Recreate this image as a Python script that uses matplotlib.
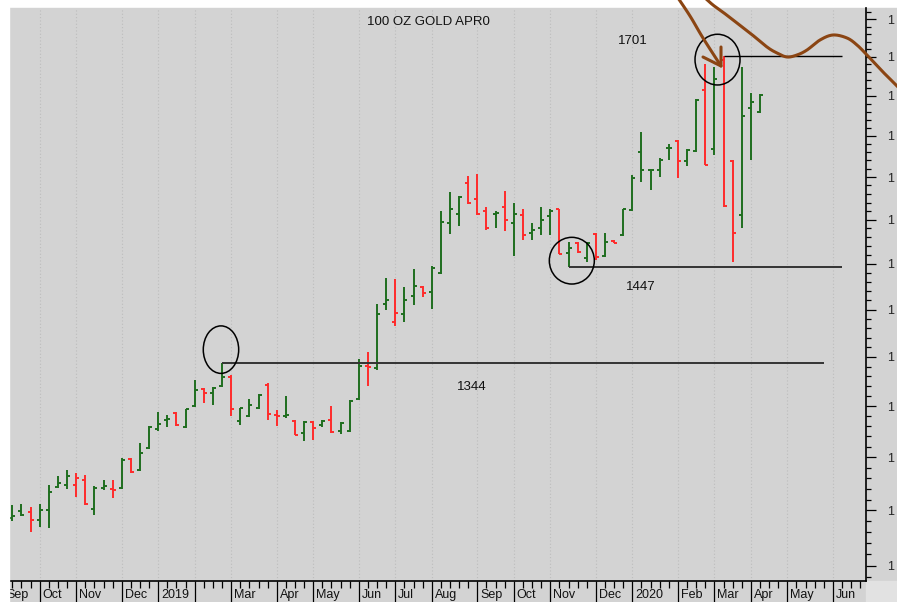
import numpy as np
import pandas as pd
import matplotlib
matplotlib.use("Agg")
import matplotlib.pyplot as plt
import matplotlib.transforms as mtransforms
from matplotlib.patches import Ellipse, Rectangle
from matplotlib.lines import Line2D
from matplotlib.ticker import FixedLocator, NullFormatter

plt.rcParams['font.family'] = ['Liberation Sans', 'DejaVu Sans']

# ---------------- data ----------------
TITLE = "100 OZ GOLD APR0"
FIRST_BAR = "2018-09-14"       # first weekly bar (Friday)
CAL_START = "2018-09-07"       # calendar of the time axis
CAL_END = "2020-06-26"

opens = [1193, 1199, 1198, 1191, 1200, 1222, 1224, 1224, 1228, 1201,
         1221, 1220, 1221, 1248, 1238, 1259, 1277, 1286, 1293, 1279,
         1300, 1317, 1313, 1320, 1329, 1285, 1290, 1298, 1321, 1291,
         1290, 1285, 1273, 1284, 1281, 1286, 1275, 1275, 1307, 1341,
         1339, 1406, 1387, 1395, 1415, 1425, 1419, 1440, 1496, 1507,
         1543, 1524, 1510, 1507, 1515, 1496, 1506, 1485, 1490, 1504,
         1512, 1462, 1474, 1457, 1484, 1459, 1476, 1482, 1511, 1580,
         1558, 1559, 1585, 1594, 1569, 1581, 1657, 1584, 1696, 1569,
         1506, 1634, 1629]
highs = [1205, 1206, 1203, 1206, 1224, 1232, 1238, 1235, 1233, 1223,
         1228, 1228, 1249, 1249, 1264, 1280, 1294, 1291, 1294, 1297,
         1326, 1318, 1319, 1344, 1331, 1298, 1307, 1312, 1323, 1296,
         1310, 1286, 1285, 1285, 1286, 1300, 1284, 1306, 1348, 1355,
         1406, 1434, 1433, 1425, 1444, 1426, 1448, 1510, 1532, 1528,
         1551, 1554, 1515, 1510, 1534, 1519, 1512, 1496, 1515, 1513,
         1513, 1475, 1475, 1475, 1485, 1485, 1477, 1513, 1553, 1605,
         1559, 1573, 1590, 1595, 1584, 1646, 1690, 1687, 1701, 1570,
         1687, 1654, 1652]
lows = [1190, 1195, 1180, 1185, 1184, 1221, 1220, 1212, 1205, 1196,
        1219, 1211, 1220, 1235, 1237, 1258, 1275, 1279, 1280, 1278,
        1299, 1303, 1301, 1319, 1290, 1281, 1289, 1297, 1286, 1280,
        1288, 1271, 1266, 1267, 1279, 1273, 1272, 1274, 1306, 1320,
        1337, 1400, 1383, 1387, 1405, 1414, 1401, 1439, 1484, 1493,
        1518, 1506, 1488, 1490, 1487, 1459, 1477, 1477, 1483, 1482,
        1461, 1447, 1462, 1452, 1454, 1458, 1473, 1481, 1510, 1544,
        1535, 1550, 1570, 1549, 1563, 1580, 1565, 1577, 1515, 1452,
        1491, 1571, 1628]
closes = [1195, 1196, 1191, 1200, 1217, 1225, 1232, 1230, 1206, 1221,
          1223, 1219, 1247, 1236, 1254, 1279, 1282, 1287, 1281, 1297,
          1316, 1313, 1318, 1329, 1297, 1298, 1301, 1311, 1292, 1290,
          1291, 1271, 1284, 1278, 1285, 1274, 1283, 1305, 1341, 1340,
          1395, 1410, 1396, 1410, 1426, 1418, 1445, 1497, 1512, 1527,
          1519, 1507, 1490, 1508, 1500, 1507, 1483, 1488, 1500, 1510,
          1461, 1468, 1463, 1474, 1458, 1475, 1474, 1512, 1549, 1558,
          1559, 1571, 1585, 1569, 1583, 1645, 1565, 1671, 1516, 1485,
          1624, 1642, 1651]

MONTH_LABELS = ['Sep', 'Oct', 'Nov', 'Dec', '2019', '', 'Mar', 'Apr', 'May',
                'Jun', 'Jul', 'Aug', 'Sep', 'Oct', 'Nov', 'Dec', '2020', 'Feb',
                'Mar', 'Apr', 'May', 'Jun']
Y_MAJOR = list(range(1150, 1751, 50))
Y_MINOR = [v for v in range(1140, 1761, 10) if v % 50]
Y_LABELS = ['1'] * len(Y_MAJOR)

LEVELS = [1344, 1447, 1701]
LEVEL_TEXT = ['1344', '1447', '1701']

# ---------------- layout ----------------
W, H, DPI = 897, 602, 100
AX_L, AX_R, AX_T, AX_B = 9, 865.5, 8, 581
GREEN = '#1f6e1f'
RED = '#ff2b2b'
BROWN = '#8B4513'

fig = plt.figure(figsize=(W / DPI, H / DPI), dpi=DPI, facecolor='white')
ax = fig.add_axes([AX_L / W, 1 - AX_B / H, (AX_R - AX_L) / W, (AX_B - AX_T) / H])
ax.set_facecolor('#d3d3d3')

# background panels
fig.patches.append(Rectangle((AX_L / W, 0), 1 - AX_L / W, 1 - AX_T / H,
                             transform=fig.transFigure, color='#d3d3d3', zorder=-2))
fig.patches.append(Rectangle((AX_R / W, 0), 1 - AX_R / W, (H - AX_B) / H,
                             transform=fig.transFigure, color='#e2e2e2', zorder=-1))

# time axis (weekly bar index)
bar_dates = pd.date_range(FIRST_BAR, periods=len(opens), freq='W-FRI')
calendar = pd.date_range(CAL_START, CAL_END, freq='W-FRI')
cal_idx = np.asarray((calendar - bar_dates[0]).days // 7)
months = np.asarray(calendar.month)
is_first = np.r_[True, months[1:] != months[:-1]]
month_pos = cal_idx[is_first]

x = np.arange(len(opens))
o = np.array(opens, float)
h = np.array(highs, float)
l = np.array(lows, float)
c = np.array(closes, float)
up = np.r_[True, c[1:] >= c[:-1]]
cols = [GREEN if u else RED for u in up]

ax.set_yscale('log')
XMIN, XMAX = -0.37, 93.57
YMIN, YMAX = 1136.6, 1764.9

# gridlines at month starts
for mp in month_pos:
    if XMIN < mp < XMAX:
        ax.axvline(mp, color='#bdbdbd', lw=0.8, ls=(0, (1, 2)), zorder=1)

TICK = 0.33
ax.vlines(x, l, h, colors=cols, lw=1.4, zorder=3)
ax.hlines(o, x - TICK, x, colors=cols, lw=1.4, zorder=3)
ax.hlines(c, x, x + TICK, colors=cols, lw=1.4, zorder=3)

# support / resistance lines
level_start = [23, 61, 78]
level_end = [89, 91, 91]
level_lw = [1.4, 1.4, 1.0]
level_col = ['#333333', '#333333', '#000000']
for lv, s, e, lw_, cc in zip(LEVELS, level_start, level_end, level_lw, level_col):
    ax.hlines(lv, s, e, colors=cc, lw=lw_, zorder=4)

text_pos = [(50.4, 1319.4), (68.9, 1424.7), (68.1, 1721)]
for t, (tx, ty) in zip(LEVEL_TEXT, text_pos):
    ax.text(tx, ty, t, ha='center', va='center', fontsize=9.5, color='#111111', zorder=5)

ax.text(0.49, 0.9756, TITLE, transform=ax.transAxes, ha='center', va='center',
        fontsize=9.5, color='#111111')

# circles (size in pixels, centred on data points)
def ring(ix, price, w_px, h_px):
    tr = fig.dpi_scale_trans + mtransforms.ScaledTranslation(ix, price, ax.transData)
    e = Ellipse((0, 0), w_px / DPI, h_px / DPI, transform=tr, fill=False,
                ec='black', lw=1.1, zorder=6)
    ax.add_artist(e)

ring(22.88, 1357.6, 35.4, 47.5)
ring(61.36, 1453.6, 45, 46.7)
ring(77.34, 1696.3, 45, 50.7)

ax.set_xlim(XMIN, XMAX)
ax.set_ylim(YMIN, YMAX)

# axes styling
for s in ['left', 'top']:
    ax.spines[s].set_visible(False)
for s in ['bottom', 'right']:
    ax.spines[s].set_linewidth(1.2)
    ax.spines[s].set_color('black')

ax.xaxis.set_major_locator(FixedLocator(month_pos))
ax.xaxis.set_minor_locator(FixedLocator(cal_idx))
ax.xaxis.set_major_formatter(NullFormatter())
ax.xaxis.set_minor_formatter(NullFormatter())
ax.tick_params(axis='x', which='major', direction='out', length=16, width=0.9, color='black')
ax.tick_params(axis='x', which='minor', direction='out', length=4.8, width=0.9, color='black')

lab_tr = mtransforms.offset_copy(ax.get_xaxis_transform(), fig=fig, x=3, y=-8, units='dots')
for mp, lab in zip(month_pos, MONTH_LABELS):
    ax.text(mp, 0, lab, transform=lab_tr, ha='left', va='top', fontsize=9,
            color='#111111', clip_on=False)

ax.yaxis.tick_right()
ax.yaxis.set_major_locator(FixedLocator(Y_MAJOR))
ax.yaxis.set_minor_locator(FixedLocator(Y_MINOR))
ax.set_yticks(Y_MAJOR, labels=Y_LABELS)
ax.yaxis.set_minor_formatter(NullFormatter())
ax.tick_params(axis='y', which='major', direction='out', length=7.2, width=0.9,
               pad=8, labelsize=9, colors='black')
ax.tick_params(axis='y', which='minor', direction='out', length=3.6, width=0.9)
for tl in ax.get_yticklabels():
    tl.set_color('#222222')

# white strip on the left (cuts the first label)
fig.patches.append(Rectangle((0, 0), AX_L / W, 1, transform=fig.transFigure,
                             color='white', zorder=10))

# hand-drawn brown arrow and curve (figure pixel coordinates)
def fig_pts(pts):
    p = np.asarray(pts, float)
    return p[:, 0] / W, 1 - p[:, 1] / H

def catmull(pts, n=24):
    P = np.asarray(pts, float)
    P = np.vstack([P[0], P, P[-1]])
    out = []
    t = np.linspace(0, 1, n, endpoint=False)[:, None]
    for i in range(1, len(P) - 2):
        p0, p1, p2, p3 = P[i - 1], P[i], P[i + 1], P[i + 2]
        out.append(0.5 * (2 * p1 + (-p0 + p2) * t + (2 * p0 - 5 * p1 + 4 * p2 - p3) * t ** 2
                          + (-p0 + 3 * p1 - 3 * p2 + p3) * t ** 3))
    out.append(P[-2][None])
    return np.vstack(out)

curve = catmull([(704, -3), (713, 5), (724, 13), (737, 23), (750, 33), (767, 47),
                 (777, 53), (787, 57), (797, 55), (807, 50), (820, 40), (833, 35),
                 (847, 38), (857, 45), (867, 55), (883, 72), (897, 86), (906, 96)])
cx, cy = fig_pts(curve)
fig.add_artist(Line2D(cx, cy, transform=fig.transFigure, color=BROWN, lw=2.2,
                      solid_capstyle='round', zorder=20))

shaft = catmull([(676, -5), (690, 16), (703, 38), (721, 66)])
sx, sy = fig_pts(shaft)
fig.add_artist(Line2D(sx, sy, transform=fig.transFigure, color=BROWN, lw=2.2,
                      solid_capstyle='round', zorder=20))
hx, hy = fig_pts([(703, 57), (721, 66), (721, 47)])
fig.add_artist(Line2D(hx, hy, transform=fig.transFigure, color=BROWN, lw=2.2,
                      solid_capstyle='round', solid_joinstyle='round', zorder=20))

fig.savefig('out.png', dpi=DPI, facecolor=fig.get_facecolor())
